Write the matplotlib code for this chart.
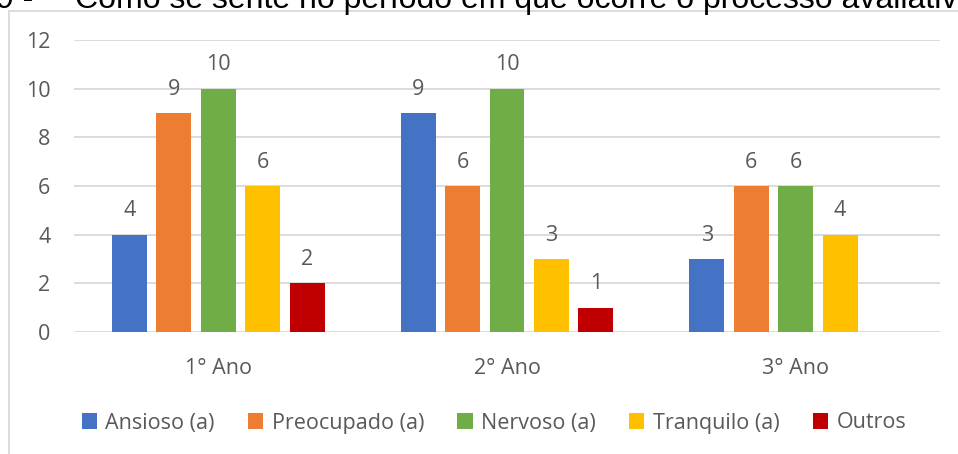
import numpy as np
import matplotlib.pyplot as plt
from matplotlib.patches import Rectangle

anos = ['1° Ano', '2° Ano', '3° Ano']
series = ['Ansioso (a)', 'Preocupado (a)', 'Nervoso (a)', 'Tranquilo (a)', 'Outros']
ansioso = [4, 9, 3]
preocupado = [9, 6, 6]
nervoso = [10, 10, 6]
tranquilo = [6, 3, 4]
outros = [2, 1, None]
cores = ['#4472C4', '#ED7D31', '#70AD47', '#FFC000', '#C00000']
titulo = 'Como se sente no período em que ocorre o processo avaliativo'

plt.rcParams['font.family'] = ['Open Sans', 'DejaVu Sans']
txt = '#595959'

fig = plt.figure(figsize=(9.58, 4.54), dpi=100)
W, H = 958, 454
ax = fig.add_axes([74 / W, 1 - 332 / H, 866 / W, 292 / H])

x = np.arange(len(anos))
step = 0.154
width = 0.121
valores = [ansioso, preocupado, nervoso, tranquilo, outros]
for i, (nome, vals, cor) in enumerate(zip(series, valores, cores)):
    xs = [xi for xi, v in zip(x, vals) if v is not None]
    vs = [v for v in vals if v is not None]
    pos = np.array(xs) + (i - 2) * step
    bars = ax.bar(pos, vs, width, color=cor, label=nome, zorder=3)
    for b, v in zip(bars, vs):
        ax.text(b.get_x() + b.get_width() / 2, v + 0.55, str(v), ha='center',
                va='bottom', fontsize=15.5, color=txt)

ax.set_xlim(-0.5, 2.5)
ax.set_ylim(0, 12)
ax.set_yticks(range(0, 13, 2))
ax.set_xticks(x)
ax.set_xticklabels(anos)
ax.tick_params(axis='both', length=0, labelsize=15.5, labelcolor=txt)
ax.tick_params(axis='y', pad=17)
ax.tick_params(axis='x', pad=19)
ax.grid(axis='y', color='#D9D9D9', linewidth=1.3, zorder=0)
for s in ax.spines.values():
    s.set_visible(False)

leg = fig.legend(loc='center', bbox_to_anchor=(494 / W, 1 - 423 / H), ncol=5,
                 frameon=False, fontsize=15.5, handlelength=0.7, handleheight=0.7,
                 handletextpad=0.4, columnspacing=1.55, labelcolor=txt)

# moldura do gráfico
fig.patches.append(Rectangle((9 / W, -0.1), 1.2, 1 - 11 / H + 0.1,
                             transform=fig.transFigure, fill=False,
                             edgecolor='#D9D9D9', linewidth=1.3))

fig.text(-4 / W, 1 - 8 / H, '9 -', fontsize=23, color='black',
         family='Liberation Sans', ha='left', va='baseline')
fig.text(75 / W, 1 - 8 / H, titulo, fontsize=23, color='black',
         family='Liberation Sans', ha='left', va='baseline')

fig.savefig('out.png', dpi=100)
